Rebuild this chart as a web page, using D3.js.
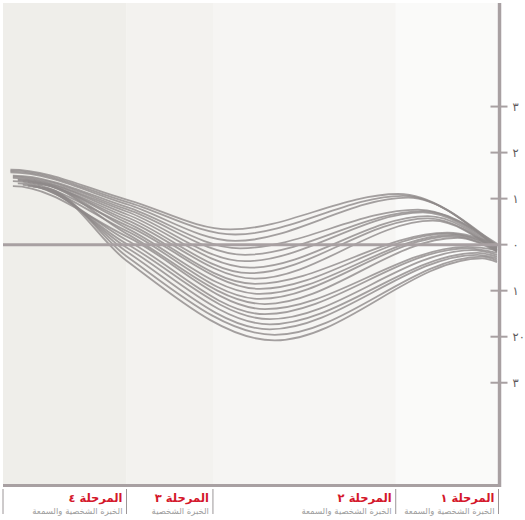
<!DOCTYPE html>
<html><head><meta charset="utf-8">
<script src="https://cdn.jsdelivr.net/npm/d3@7"></script>
<style>
html,body{margin:0;padding:0;background:#fff;}
svg{display:block;font-family:"DejaVu Sans","Noto Sans",sans-serif;}
</style></head>
<body><svg id="c" width="525" height="520"></svg>
<script>
// ---- data ----
const stageNames = ["المرحلة ١","المرحلة ٢","المرحلة ٣","المرحلة ٤"];
const stageSubs  = ["الخبرة الشخصية والسمعة","الخبرة الشخصية والسمعة","الخبرة الشخصية","الخبرة الشخصية والسمعة"];
const stageFrom  = [79.5, 42.5, 25, 0];
const stageTo    = [100, 79.5, 42.5, 25];

const tickValues = [3, 2, 1, 0, -1, -2, -3];
const tickLabels = ["٣","٢","١","٠","١","٢٠","٣"];

// each trajectory: start, value at end of stage 4, trough, peak, end (x in 0..100 time units)
const startX  = [1.5,1.5,1.5,2,2,2,3,3,4,5,2,6,3,7,2,4,5,6,7,8,8];
const startV  = [1.63,1.60,1.57,1.50,1.48,1.45,1.42,1.40,1.38,1.36,1.38,1.34,1.33,1.31,1.27,1.30,1.28,1.26,1.25,1.24,1.22];
const midX    = 25;
const midV    = [0.98,0.93,0.88,0.82,0.77,0.72,0.66,0.60,0.54,0.48,0.42,0.36,0.30,0.24,0.18,0.10,0.02,-0.06,-0.15,-0.25,-0.35];
const troughX = [46,47,47,48,49,49,50,50,51,51,52,52,52,53,53,53,54,54,54,55,55];
const troughV = [0.33,0.22,0.08,-0.08,-0.22,-0.36,-0.50,-0.62,-0.74,-0.85,-0.96,-1.07,-1.18,-1.29,-1.40,-1.51,-1.62,-1.73,-1.84,-1.96,-2.08];
const peakX   = [80,81,82,84,85,85,86,86,87,90,90,91,91,92,94,94,95,96,96,97,97];
const peakV   = [1.10,1.06,1.02,0.76,0.73,0.70,0.62,0.57,0.52,0.26,0.24,0.21,0.18,0.15,-0.05,-0.08,-0.12,-0.18,-0.22,-0.26,-0.30];
const endX    = 100;
const endV    = [-0.02,-0.05,-0.08,0.02,-0.03,-0.06,-0.10,-0.12,-0.15,0.00,-0.04,-0.08,-0.12,-0.15,-0.12,-0.18,-0.22,-0.26,-0.30,-0.34,-0.38];

// ---- styles ----
const bandColors = ["#fafaf9","#f6f5f3","#f3f2ef","#efeeea"];
const axisColor = "#a8a0a2";

const svg = d3.select("#c");
const x = d3.scaleLinear().domain([0,100]).range([3,497]);
const y = d3.scaleLinear().domain([-5.2,5.25]).range([484,3]);

// bands
svg.append("g").selectAll("rect").data(stageNames).join("rect")
  .attr("x",(d,i)=>x(stageFrom[i])).attr("width",(d,i)=>x(stageTo[i])-x(stageFrom[i]))
  .attr("y",y.range()[1]).attr("height",y.range()[0]-y.range()[1])
  .attr("fill",(d,i)=>bandColors[i]);

// trajectories
const series = startX.map((sx,i)=>[[sx,startV[i]],[midX,midV[i]],[troughX[i],troughV[i]],[peakX[i],peakV[i]],[endX,endV[i]]]);
function sign(v){return v<0?-1:1;}
function smoothPath(pts){
  const P = pts.map(d=>[x(d[0]),y(d[1])]);
  const n = P.length;
  const s = [];
  for(let i=0;i<n-1;i++) s.push((P[i+1][1]-P[i][1])/(P[i+1][0]-P[i][0]));
  const t = new Array(n).fill(0);
  for(let i=1;i<n-1;i++){
    const h0=P[i][0]-P[i-1][0], h1=P[i+1][0]-P[i][0];
    const s0=s[i-1], s1=s[i];
    if(s0*s1<=0){t[i]=0;continue;}
    const p=(s0*h1+s1*h0)/(h0+h1);
    t[i]=(sign(s0)+sign(s1))*Math.min(Math.abs(s0),Math.abs(s1),0.5*Math.abs(p));
  }
  t[0]=0;
  t[n-1]=(3*s[n-2]-t[n-2])/2;
  const p = d3.path();
  p.moveTo(P[0][0],P[0][1]);
  for(let i=0;i<n-1;i++){
    const [x0,y0]=P[i],[x1,y1]=P[i+1];
    const dx=(x1-x0)/3;
    p.bezierCurveTo(x0+dx,y0+t[i]*dx,x1-dx,y1-t[i+1]*dx,x1,y1);
  }
  return p.toString();
}
svg.append("g").selectAll("path").data(series).join("path")
  .attr("d",smoothPath).attr("fill","none")
  .attr("stroke","#8f8a8a").attr("stroke-opacity",0.8).attr("stroke-width",1.8);

// zero line
svg.append("line").attr("x1",x(0)).attr("x2",x(100)+3).attr("y1",y(0)).attr("y2",y(0))
  .attr("stroke",axisColor).attr("stroke-width",3);

// vertical axis
const ax = x(100)+2.5;
svg.append("line").attr("x1",ax).attr("x2",ax).attr("y1",y.range()[1]).attr("y2",y.range()[0]+3)
  .attr("stroke",axisColor).attr("stroke-width",3.5);
const tg = svg.append("g").selectAll("g").data(tickValues).join("g")
  .attr("transform",d=>`translate(${ax},${y(d)})`);
tg.append("line").attr("x1",-9).attr("x2",8).attr("stroke",axisColor).attr("stroke-width",2);
tg.append("text").attr("x",13).attr("dy","0.35em").attr("font-size",11.5).attr("fill","#605a5c")
  .text((d,i)=>tickLabels[i]);

// bottom baseline
svg.append("line").attr("x1",x(0)).attr("x2",ax+1.5).attr("y1",y.range()[0]+1.5).attr("y2",y.range()[0]+1.5)
  .attr("stroke",axisColor).attr("stroke-width",3);

// dividers
const divs = [0].concat(stageTo);
svg.append("g").selectAll("line").data(divs).join("line")
  .attr("x1",d=>d===100?ax-1:x(d)).attr("x2",d=>d===100?ax-1:x(d))
  .attr("y1",y.range()[0]+5).attr("y2",y.range()[0]+30)
  .attr("stroke","#9c9698").attr("stroke-width",1);

// stage labels
const lg = svg.append("g").selectAll("g").data(stageNames).join("g")
  .attr("transform",(d,i)=>`translate(${(stageTo[i]===100?ax-1:x(stageTo[i]))-4},0)`);
lg.append("text").attr("y",502).attr("text-anchor","end").attr("font-size",11.5).attr("font-weight","bold")
  .attr("fill","#d4172b").text(d=>d);
lg.append("text").attr("y",514).attr("text-anchor","end").attr("font-size",8.5)
  .attr("fill","#9d9d9d").text((d,i)=>stageSubs[i]);
</script></body></html>
